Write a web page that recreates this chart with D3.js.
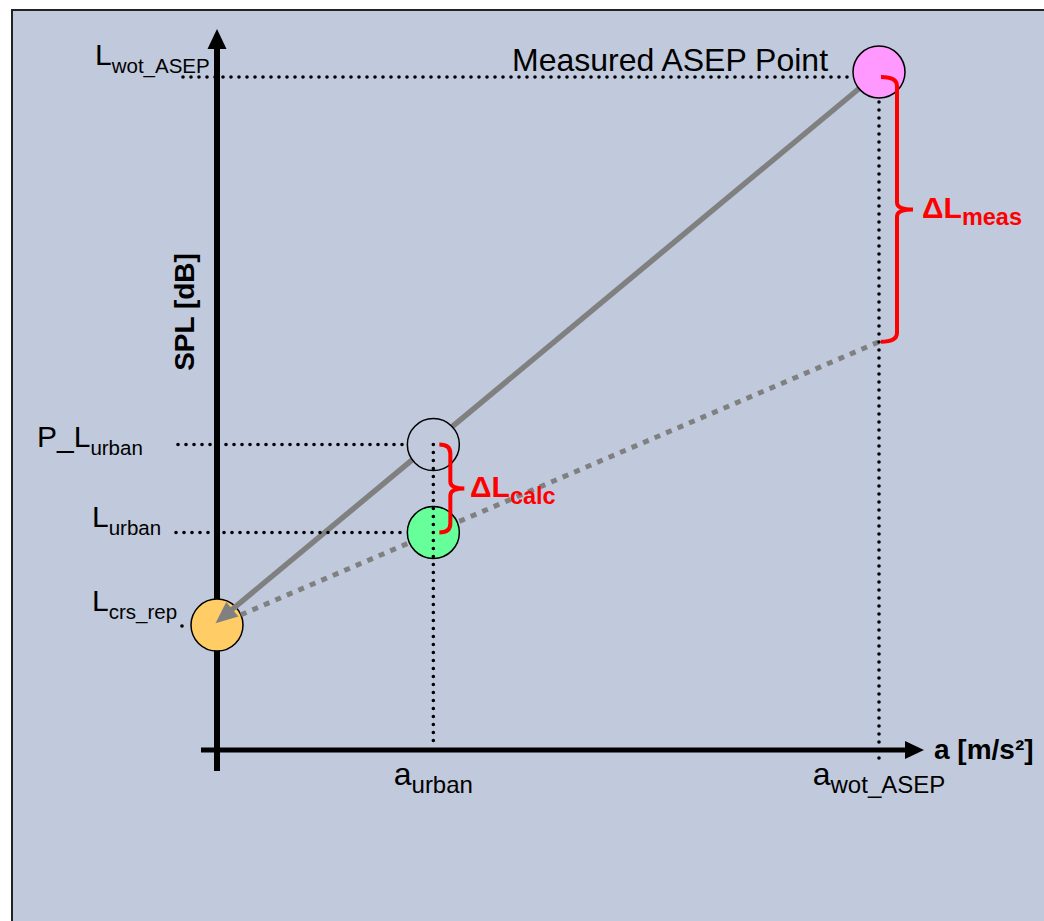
<!DOCTYPE html>
<html>
<head>
<meta charset="utf-8">
<script src="https://cdn.jsdelivr.net/npm/d3@7/dist/d3.min.js"></script>
<style>
  html, body { margin: 0; padding: 0; background: #ffffff; }
  svg { display: block; }
  text { font-family: "Liberation Sans", Arial, sans-serif; }
</style>
</head>
<body>
<script>
// Acceleration markers on the horizontal axis (m/s²)
const accelNames  = ["a_urban", "a_wot_ASEP"];
const accelValues = [1.0, 3.06];

// Sound pressure levels on the vertical axis (dB)
const levelNames  = ["L_crs_rep", "L_urban", "P_L_urban", "L_wot_ASEP"];
const levelValues = [66, 70, 73.8, 89.9];

// Operating points: [acceleration, level]
const pointNames  = ["crs_rep", "urban", "P_urban", "wot_ASEP"];
const pointAccel  = [0, 1.0, 1.0, 3.06];
const pointLevel  = [66, 70, 73.8, 89.9];
const pointFills  = ["#FFCC66", "#66FF99", "none", "#FF99FF"];

// Axis extents
const accelDomain = [0, 3.06];
const levelDomain = [60.6, 89.9];

const W = 1044, H = 921;
const bg = "#C0CADC";
const R = 26;

const svg = d3.select("body").append("svg").attr("width", W).attr("height", H);

svg.append("rect")
  .attr("x", 12).attr("y", 10).attr("width", 1100).attr("height", 1000)
  .attr("fill", bg).attr("stroke", "#222").attr("stroke-width", 2);

const x = d3.scaleLinear().domain(accelDomain).range([217, 879]);
const y = d3.scaleLinear().domain(levelDomain).range([750, 72]);

const g = svg.append("g");
const line = d3.line();

// ---- axes ----
const x0 = x(0), yBase = y(levelDomain[0]);
g.append("path").attr("d", line([[x0, yBase + 21], [x0, 46]]))
  .attr("stroke", "#000").attr("stroke-width", 6).attr("fill", "none");
g.append("path").attr("d", line([[x0, 29], [x0 - 9.5, 49], [x0 + 9.5, 49]]) + "Z").attr("fill", "#000");

g.append("path").attr("d", line([[x0 - 16, yBase], [907, yBase]]))
  .attr("stroke", "#000").attr("stroke-width", 5).attr("fill", "none");
g.append("path").attr("d", line([[924, yBase], [905, yBase - 9], [905, yBase + 9]]) + "Z").attr("fill", "#000");

// ---- orange reference point (under the lines) ----
const P = pointNames.map((n, i) => ({ name: n, cx: x(pointAccel[i]), cy: y(pointLevel[i]), fill: pointFills[i] }));
const pCrs = P[0], pUrb = P[1], pPUrb = P[2], pWot = P[3];

g.append("circle").attr("cx", pCrs.cx).attr("cy", pCrs.cy).attr("r", R)
  .attr("fill", pCrs.fill).attr("stroke", "#000").attr("stroke-width", 1.5);

// ---- dotted extrapolation through L_urban to a_wot ----
const slopeCalc = (pointLevel[1] - pointLevel[0]) / (pointAccel[1] - pointAccel[0]);
const extrapLevel = pointLevel[0] + slopeCalc * (accelValues[1] - pointAccel[0]);
const pExt = [x(accelValues[1]), y(extrapLevel)];
{
  const dx = pExt[0] - pCrs.cx, dy = pExt[1] - pCrs.cy, len = Math.hypot(dx, dy);
  const s = [pCrs.cx + dx / len * R, pCrs.cy + dy / len * R];
  g.append("path").attr("d", line([s, pExt]))
    .attr("stroke", "#808080").attr("stroke-width", 5).attr("stroke-dasharray", "6,6.5")
    .attr("fill", "none");
}

// ---- solid line from measured point back to reference, with arrow ----
{
  const dx = pCrs.cx - pWot.cx, dy = pCrs.cy - pWot.cy, len = Math.hypot(dx, dy);
  const ux = dx / len, uy = dy / len;
  const tip = [pCrs.cx + ux * 2, pCrs.cy + uy * 2 - 3];
  const headLen = 22, halfW = 9.5;
  const base = [tip[0] - ux * headLen, tip[1] - uy * headLen];
  g.append("path").attr("d", line([[pWot.cx, pWot.cy], [base[0] + ux * 2, base[1] + uy * 2]]))
    .attr("stroke", "#808080").attr("stroke-width", 5.5).attr("fill", "none");
  g.append("path").attr("d", line([tip, [base[0] - uy * halfW, base[1] + ux * halfW], [base[0] + uy * halfW, base[1] - ux * halfW]]) + "Z")
    .attr("fill", "#808080");
}

// ---- remaining points ----
[pPUrb, pUrb, pWot].forEach(p => {
  g.append("circle").attr("cx", p.cx).attr("cy", p.cy).attr("r", R)
    .attr("fill", p.fill === "none" ? bg : p.fill).attr("stroke", "#000").attr("stroke-width", 1.5);
});

// ---- dotted guide lines ----
function dots(pts) {
  g.append("path").attr("d", line(pts))
    .attr("stroke", "#000").attr("stroke-width", 3.6).attr("stroke-linecap", "round")
    .attr("stroke-dasharray", "0,8").attr("fill", "none");
}
dots([[183, pWot.cy + 5], [pWot.cx - R - 2, pWot.cy + 5]]);
dots([[178, pPUrb.cy], [pPUrb.cx - R - 2, pPUrb.cy]]);
dots([[176, pUrb.cy], [pUrb.cx - R - 2, pUrb.cy]]);
dots([[182, pCrs.cy + 1], [pCrs.cx - R - 2, pCrs.cy + 1]]);
dots([[pPUrb.cx, pPUrb.cy], [pPUrb.cx, yBase - 3]]);
dots([[pWot.cx, pWot.cy + R + 4], [pWot.cx, yBase + 11]]);

// ---- red braces ----
function brace(xs, y0, y1, spine, tip) {
  const p = d3.path(), ym = (y0 + y1) / 2, r = 9, rm = 7;
  p.moveTo(xs, y0);
  p.quadraticCurveTo(spine, y0, spine, y0 + r);
  p.lineTo(spine, ym - rm);
  p.quadraticCurveTo(spine, ym, tip, ym);
  p.quadraticCurveTo(spine, ym, spine, ym + rm);
  p.lineTo(spine, y1 - r);
  p.quadraticCurveTo(spine, y1, xs, y1);
  g.append("path").attr("d", p.toString())
    .attr("stroke", "#FF0000").attr("stroke-width", 4).attr("fill", "none");
}
brace(pPUrb.cx + 6, pPUrb.cy, pUrb.cy, pPUrb.cx + 17, pPUrb.cx + 31);
brace(pWot.cx + 2, pWot.cy + 5, pExt[1], pWot.cx + 18, pWot.cx + 34);

// ---- text ----
function label(tx, ty, main, sub, size, subSize, opts = {}) {
  const t = g.append("text").attr("x", tx).attr("y", ty)
    .attr("fill", opts.fill || "#000")
    .attr("font-weight", opts.bold ? "bold" : "normal")
    .attr("text-anchor", opts.anchor || "start");
  t.append("tspan").attr("font-size", size).text(main);
  if (sub) t.append("tspan").attr("font-size", subSize).attr("dy", opts.subDy || 8).text(sub);
  return t;
}

const levelLabelX = { L_crs_rep: 92, L_urban: 92, P_L_urban: 37, L_wot_ASEP: 95 };
const levelLabelDy = { L_crs_rep: -14, L_urban: -5, P_L_urban: 2, L_wot_ASEP: -7 };
levelNames.forEach((n, i) => {
  const parts = n.match(/^(.*?L)_(.*)$/);
  label(levelLabelX[n], y(levelValues[i]) + levelLabelDy[n], parts[1], parts[2], 30, 20.5);
});

accelNames.forEach((n, i) => {
  label(x(accelValues[i]), 785, "a", n.slice(2), 32, 24, { anchor: "middle", subDy: 8 });
});

g.append("text").attr("x", 512).attr("y", 71).attr("font-size", 32).attr("fill", "#000")
  .text("Measured ASEP Point");

label(470, 497, "\u0394L", "calc", 30, 23.5, { fill: "#FF0000", bold: true, subDy: 7 });
label(922, 218, "\u0394L", "meas", 30, 23.5, { fill: "#FF0000", bold: true, subDy: 7 });

g.append("text").attr("x", 934).attr("y", 759).attr("font-size", 28).attr("font-weight", "bold")
  .text("a [m/s\u00B2]");

g.append("text").attr("transform", "translate(194,312) rotate(-90)")
  .attr("text-anchor", "middle").attr("font-size", 28).attr("font-weight", "bold")
  .text("SPL [dB]");
</script>
</body>
</html>
